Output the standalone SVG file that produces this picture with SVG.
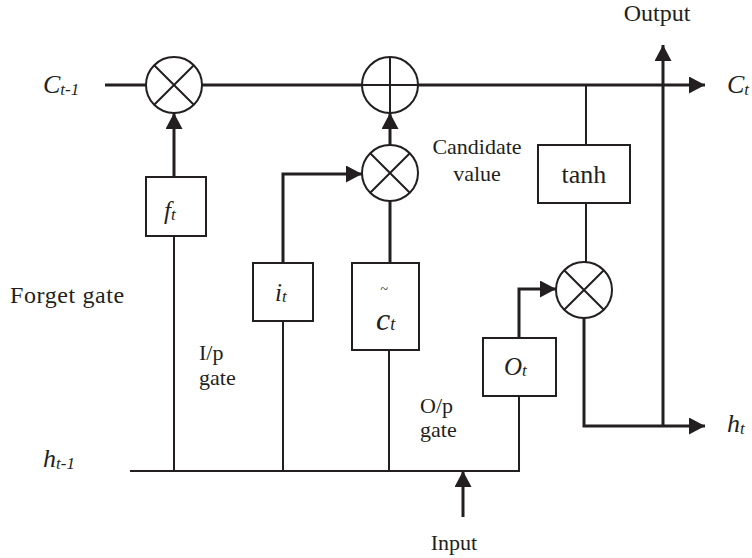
<svg xmlns="http://www.w3.org/2000/svg" width="752" height="558" viewBox="0 0 752 558">
<style>
  .node{fill:#fff;stroke:#231f20;stroke-width:2}
  .op{fill:none;stroke:#231f20;stroke-width:2}
  .thin{fill:none;stroke:#231f20;stroke-width:2}
  .thick{fill:none;stroke:#231f20;stroke-width:3}
  .lbl{font-family:"Liberation Serif","Times New Roman",serif;font-size:22px;fill:#231f20}
  .big{font-size:24px}
  .math{font-family:"Liberation Serif","Times New Roman",serif;font-style:italic;fill:#231f20}
</style>
<defs>
  <marker id="ah" viewBox="0 0 16 17" refX="16" refY="8.5" markerWidth="16" markerHeight="17" orient="auto" markerUnits="userSpaceOnUse">
    <path d="M0,0 L16,8.5 L0,17 z" fill="#231f20"/>
  </marker>
</defs>

<g id="connectors">
  <line class="thick" x1="105" y1="85" x2="146" y2="85"/>
  <path class="thick" d="M201,85 H705" marker-end="url(#ah)"/>
  <path class="thick" d="M174,177 V113" marker-end="url(#ah)"/>
  <line class="thin" x1="174" y1="236" x2="174" y2="471"/>
  <path class="thick" d="M283,263 V174 H362" marker-end="url(#ah)"/>
  <line class="thin" x1="283" y1="321" x2="283" y2="471"/>
  <path class="thick" d="M390,145 V113" marker-end="url(#ah)"/>
  <line class="thick" x1="390" y1="201" x2="390" y2="263"/>
  <line class="thin" x1="389" y1="350" x2="389" y2="471"/>
  <line class="thin" x1="586" y1="85" x2="586" y2="145"/>
  <line class="thin" x1="586" y1="203" x2="586" y2="262"/>
  <path class="thick" d="M519,338 V289 H556" marker-end="url(#ah)"/>
  <line class="thin" x1="519" y1="396" x2="519" y2="471"/>
  <path class="thick" d="M584,318 V426 H705" marker-end="url(#ah)"/>
  <path class="thick" d="M663,426 V45" marker-end="url(#ah)"/>
  <line class="thin" x1="130" y1="471" x2="520" y2="471"/>
  <path class="thick" d="M463,517 V471" marker-end="url(#ah)"/>
</g>

<g id="mult-forget">
  <circle class="node" cx="174" cy="85" r="28"/>
  <path class="op" d="M154.2,65.2 L193.8,104.8 M193.8,65.2 L154.2,104.8"/>
</g>
<g id="add-cell">
  <circle class="node" cx="390" cy="85" r="28"/>
  <path class="op" d="M362,85 H418 M390,57 V113"/>
</g>
<g id="mult-input">
  <circle class="node" cx="390" cy="173" r="28"/>
  <path class="op" d="M370.2,153.2 L409.8,192.8 M409.8,153.2 L370.2,192.8"/>
</g>
<g id="mult-output">
  <circle class="node" cx="584" cy="290" r="28"/>
  <path class="op" d="M564.2,270.2 L603.8,309.8 M603.8,270.2 L564.2,309.8"/>
</g>

<g id="box-f">
  <rect class="node" x="146" y="177" width="60" height="59"/>
  <text class="math" x="164" y="219" font-size="25">f<tspan font-size="17" dy="1">t</tspan></text>
</g>
<g id="box-i">
  <rect class="node" x="253" y="263" width="60" height="58"/>
  <text class="math" x="275" y="301" font-size="25">i<tspan font-size="17" dy="1">t</tspan></text>
</g>
<g id="box-c">
  <rect class="node" x="352" y="263" width="67" height="87"/>
  <text class="math" x="384" y="294" font-size="14" text-anchor="middle">~</text>
  <text class="math" x="376" y="330" font-size="32">c<tspan font-size="18">t</tspan></text>
</g>
<g id="box-o">
  <rect class="node" x="483" y="338" width="73" height="58"/>
  <text class="math" x="504" y="375" font-size="25">O<tspan font-size="17" dy="1">t</tspan></text>
</g>
<g id="box-tanh">
  <rect class="node" x="538" y="145" width="92" height="58"/>
  <text class="lbl" x="584" y="183" text-anchor="middle" style="font-size:26px">tanh</text>
</g>

<g id="labels">
  <text class="math" x="43" y="93" font-size="26">C<tspan font-size="17" dy="2">t-1</tspan></text>
  <text class="math" x="727" y="93" font-size="26">C<tspan font-size="17" dy="2">t</tspan></text>
  <text class="math" x="43" y="467" font-size="26">h<tspan font-size="17" dy="2">t-1</tspan></text>
  <text class="math" x="727" y="432" font-size="26">h<tspan font-size="17" dy="2">t</tspan></text>
  <text class="lbl big" x="657" y="21" text-anchor="middle">Output</text>
  <text class="lbl" x="454" y="550" text-anchor="middle">Input</text>
  <text class="lbl" x="10" y="303" style="font-size:24px;letter-spacing:0.6px">Forget gate</text>
  <text class="lbl" x="199" y="360">I/p</text>
  <text class="lbl" x="199" y="385">gate</text>
  <text class="lbl" x="420" y="413">O/p</text>
  <text class="lbl" x="420" y="437">gate</text>
  <text class="lbl" x="477" y="154" text-anchor="middle">Candidate</text>
  <text class="lbl" x="477" y="181" text-anchor="middle">value</text>
</g>
</svg>
